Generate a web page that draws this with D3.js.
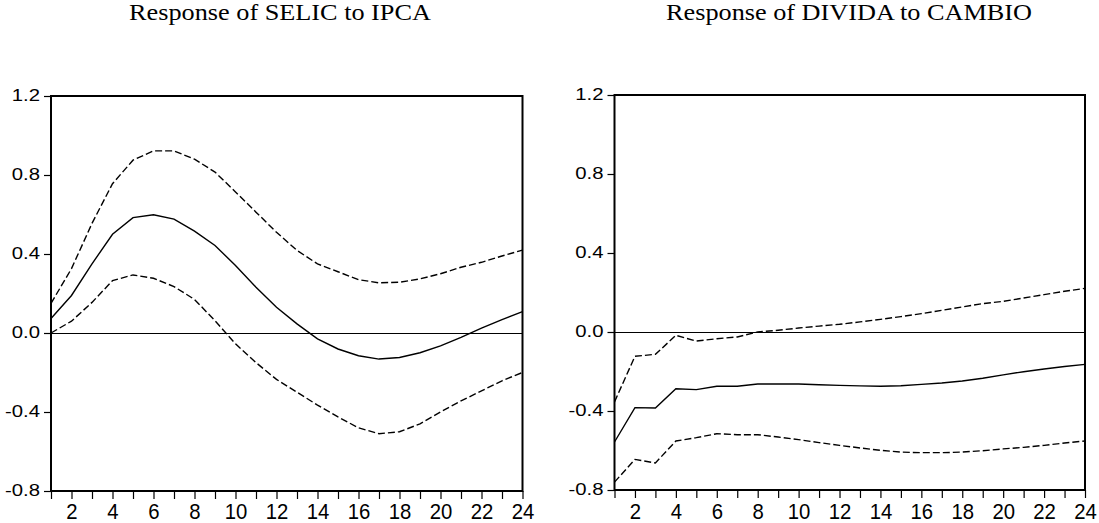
<!DOCTYPE html>
<html>
<head>
<meta charset="utf-8">
<script src="https://cdn.jsdelivr.net/npm/d3@7"></script>
<style>
  html, body { margin: 0; padding: 0; background: #fff; }
  svg { display: block; }
</style>
</head>
<body>
<svg width="1099" height="523"></svg>
<script>
var svg = d3.select('svg')

// impulse responses, periods 1..24
var periods = [1, 2, 3, 4, 5, 6, 7, 8, 9, 10, 11, 12, 13, 14, 15, 16, 17, 18, 19, 20, 21, 22, 23, 24]
var yTicks = [-0.8, -0.4, 0.0, 0.4, 0.8, 1.2]

var selicResp = [0.073, 0.19, 0.35, 0.50, 0.584, 0.599, 0.577, 0.516, 0.443, 0.342, 0.232, 0.13,
  0.046, -0.03, -0.081, -0.115, -0.132, -0.124, -0.10, -0.065, -0.022, 0.025, 0.068, 0.108]
var selicUpper = [0.15, 0.326, 0.555, 0.756, 0.875, 0.922, 0.922, 0.88, 0.815, 0.714, 0.612, 0.51,
  0.418, 0.35, 0.31, 0.27, 0.254, 0.257, 0.274, 0.30, 0.333, 0.358, 0.39, 0.42]
var selicLower = [0.0, 0.06, 0.155, 0.265, 0.294, 0.277, 0.235, 0.17, 0.062, -0.055, -0.15, -0.235,
  -0.30, -0.365, -0.425, -0.48, -0.51, -0.50, -0.46, -0.40, -0.344, -0.293, -0.242, -0.20]

var dividaResp = [-0.557, -0.383, -0.385, -0.287, -0.292, -0.275, -0.275, -0.263, -0.263, -0.263, -0.267, -0.27,
  -0.273, -0.275, -0.272, -0.265, -0.258, -0.248, -0.234, -0.217, -0.201, -0.187, -0.175, -0.164]
var dividaUpper = [-0.354, -0.123, -0.113, -0.017, -0.046, -0.034, -0.025, 0.0, 0.009, 0.02, 0.03, 0.039,
  0.051, 0.064, 0.078, 0.093, 0.11, 0.127, 0.144, 0.155, 0.172, 0.189, 0.206, 0.221]
var dividaLower = [-0.76, -0.645, -0.663, -0.552, -0.535, -0.515, -0.52, -0.52, -0.532, -0.545, -0.56, -0.574,
  -0.587, -0.599, -0.608, -0.611, -0.611, -0.608, -0.601, -0.592, -0.584, -0.574, -0.562, -0.552]

var panels = [
  { title: 'Response of SELIC to IPCA', resp: selicResp, upper: selicUpper, lower: selicLower,
    left: 51, right: 522.5, top: 96, bottom: 491, titleX: 280 },
  { title: 'Response of DIVIDA to CAMBIO', resp: dividaResp, upper: dividaUpper, lower: dividaLower,
    left: 614.5, right: 1085, top: 95, bottom: 490, titleX: 849 }
]

// the source picture is stretched sideways, so text gets the same stretch
var sx = 1.27
var fmt = d3.format('.1f')

panels.forEach(p => {
  var x = d3.scaleLinear().domain([1, 24]).range([p.left, p.right])
  var y = d3.scaleLinear().domain([-0.8, 1.2]).range([p.bottom, p.top])

  svg.append('text')
    .attr('transform', 'translate(' + p.titleX + ',20) scale(1.25,1.05)')
    .attr('text-anchor', 'middle')
    .style('font-family', '"Liberation Serif", "Times New Roman", serif')
    .style('font-size', '21px')
    .text(p.title)

  // y axis
  var yAxis = svg.append('g')
    .attr('transform', 'translate(' + p.left + ',0)')
    .call(d3.axisLeft(y).tickValues(yTicks).tickSize(7)
      .tickFormat(d => fmt(d).replace('\u2212', '-')))
  yAxis.select('.domain').remove()
  yAxis.selectAll('line').attr('stroke', '#000').attr('stroke-width', 1.2)
  yAxis.selectAll('text')
    .attr('x', null).attr('dy', null)
    .attr('transform', 'translate(-11,4) scale(' + sx + ',1)')
    .attr('fill', '#000')
    .style('font-family', '"Liberation Sans", Arial, Helvetica, sans-serif')
    .style('font-size', '16px')

  // x axis
  var xAxis = svg.append('g')
    .attr('transform', 'translate(0,' + p.bottom + ')')
    .call(d3.axisBottom(x).tickValues(periods).tickSize(8)
      .tickFormat(d => d % 2 === 0 ? d : ''))
  xAxis.select('.domain').remove()
  xAxis.selectAll('line').attr('stroke', '#000').attr('stroke-width', 1.2)
  xAxis.selectAll('text')
    .attr('y', null).attr('dy', null)
    .attr('transform', 'translate(0,' + (519 - p.bottom) + ') scale(' + sx + ',1.4)')
    .attr('fill', '#000')
    .style('font-family', '"Liberation Sans", Arial, Helvetica, sans-serif')
    .style('font-size', '16px')

  // zero line
  svg.append('line')
    .attr('x1', p.left).attr('x2', p.right)
    .attr('y1', Math.round(y(0)) + 0.5).attr('y2', Math.round(y(0)) + 0.5)
    .attr('stroke', '#000').attr('stroke-width', 1)

  var line = d3.line()
    .x((d, i) => x(periods[i]))
    .y(d => y(d))

  svg.append('path')
    .datum(p.upper)
    .attr('d', line)
    .attr('fill', 'none').attr('stroke', '#000').attr('stroke-width', 1.4)
    .attr('stroke-dasharray', '7,3')
  svg.append('path')
    .datum(p.lower)
    .attr('d', line)
    .attr('fill', 'none').attr('stroke', '#000').attr('stroke-width', 1.4)
    .attr('stroke-dasharray', '7,3')
  svg.append('path')
    .datum(p.resp)
    .attr('d', line)
    .attr('fill', 'none').attr('stroke', '#000').attr('stroke-width', 1.4)

  // frame
  svg.append('rect')
    .attr('x', p.left).attr('y', p.top)
    .attr('width', p.right - p.left).attr('height', p.bottom - p.top)
    .attr('fill', 'none').attr('stroke', '#000').attr('stroke-width', 2)
})
</script>
</body>
</html>
